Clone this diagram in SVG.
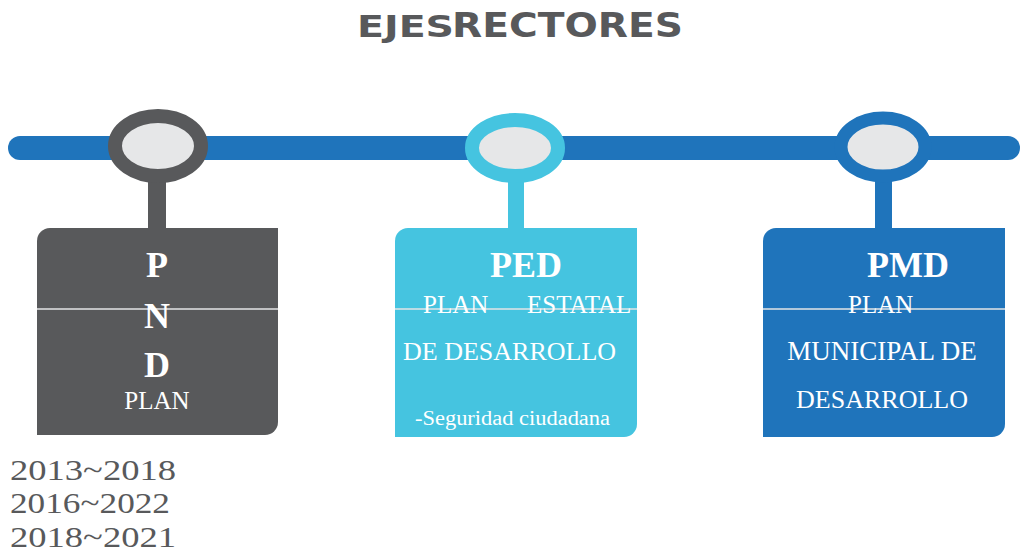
<svg xmlns="http://www.w3.org/2000/svg" width="1020" height="551" viewBox="0 0 1020 551">
<style>
.t{font-family:"Liberation Serif","DejaVu Serif",serif;fill:#ffffff}
.big{font-size:36px;font-weight:bold}
.mid{font-size:25px}
.div{stroke:#e3e4e6;stroke-width:1.5}
.title{font-family:"DejaVu Sans","Liberation Sans",sans-serif;font-weight:bold;fill:#58595b}
.date{font-family:"Liberation Serif","DejaVu Serif",serif;font-size:29px;fill:#58595b}
</style>
<rect width="1020" height="551" fill="#ffffff"/>
<g id="title">
<text class="title" x="357" y="37" font-size="30" textLength="97" lengthAdjust="spacingAndGlyphs">EJES</text>
<text class="title" x="452" y="37" font-size="33" textLength="231" lengthAdjust="spacingAndGlyphs">RECTORES</text>
</g>
<g id="connectors">
<rect x="8" y="136" width="1012" height="24" rx="12" fill="#1f74bb"/>
<rect x="148" y="180" width="18" height="50" fill="#58595b"/>
<rect x="508" y="180" width="16" height="50" fill="#45c4e0"/>
<rect x="875" y="180" width="17" height="50" fill="#1f74bb"/>
</g>
<g id="node-pnd">
<ellipse cx="158" cy="146" rx="43" ry="30" fill="#e6e7e8" stroke="#58595b" stroke-width="14"/>
<path d="M37,241 A13,13 0 0 1 50,228 L278,228 L278,422 A13,13 0 0 1 265,435 L37,435 Z" fill="#58595b"/>
<line class="div" x1="37" y1="309" x2="278" y2="309"/>
<text class="t big" x="157" y="277" text-anchor="middle">P</text>
<text class="t big" x="157" y="328" text-anchor="middle">N</text>
<text class="t big" x="157" y="377" text-anchor="middle">D</text>
<text class="t mid" x="157" y="409" text-anchor="middle">PLAN</text>
</g>
<g id="node-ped">
<ellipse cx="515" cy="148" rx="43" ry="28" fill="#e6e7e8" stroke="#45c4e0" stroke-width="14"/>
<path d="M395,241 A13,13 0 0 1 408,228 L637,228 L637,424 A13,13 0 0 1 624,437 L395,437 Z" fill="#45c4e0"/>
<line class="div" x1="395" y1="309" x2="637" y2="309"/>
<text class="t big" x="526" y="277" text-anchor="middle">PED</text>
<text class="t mid" x="423" y="313">PLAN</text>
<text class="t mid" x="527" y="313">ESTATAL</text>
<text class="t" x="403" y="360" font-size="26">DE DESARROLLO</text>
<text class="t" x="415" y="425" font-size="20" textLength="195" lengthAdjust="spacingAndGlyphs">-Seguridad ciudadana</text>
</g>
<g id="node-pmd">
<ellipse cx="883" cy="147" rx="42" ry="29" fill="#e6e7e8" stroke="#1f74bb" stroke-width="13"/>
<path d="M763,241 A13,13 0 0 1 776,228 L1005,228 L1005,424 A13,13 0 0 1 992,437 L763,437 Z" fill="#1f74bb"/>
<line class="div" x1="763" y1="309" x2="1005" y2="309"/>
<text class="t big" x="908" y="277" text-anchor="middle">PMD</text>
<text class="t mid" x="848" y="313">PLAN</text>
<text class="t" x="882" y="360" font-size="27" text-anchor="middle">MUNICIPAL DE</text>
<text class="t" x="882" y="408" font-size="26" text-anchor="middle">DESARROLLO</text>
</g>
<g id="dates">
<text class="date" x="10" y="480" textLength="166" lengthAdjust="spacingAndGlyphs">2013~2018</text>
<text class="date" x="10" y="513" textLength="160" lengthAdjust="spacingAndGlyphs">2016~2022</text>
<text class="date" x="10" y="547" textLength="166" lengthAdjust="spacingAndGlyphs">2018~2021</text>
</g>
</svg>
